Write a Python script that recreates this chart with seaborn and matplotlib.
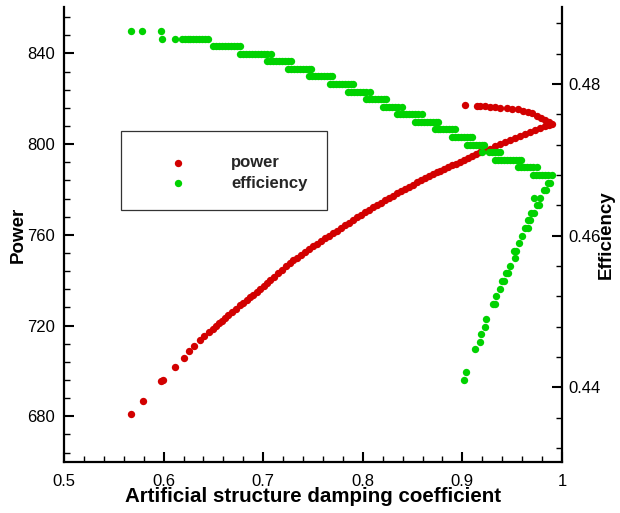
import matplotlib
matplotlib.use("Agg")
import matplotlib.pyplot as plt
import pandas as pd
import seaborn as sns
from matplotlib.ticker import MultipleLocator, FuncFormatter
from matplotlib.patches import Rectangle

# Power: damping coefficient vs. power (lower branch, then the fold-back branch)
power_x = [
    0.567, 0.579, 0.597, 0.599, 0.611, 0.620, 0.626, 0.631, 0.637, 0.641,
    0.646, 0.650, 0.653, 0.656, 0.659, 0.662, 0.665, 0.669, 0.673, 0.677,
    0.680, 0.684, 0.687, 0.690, 0.694, 0.697, 0.701, 0.704, 0.707, 0.711,
    0.715, 0.719, 0.723, 0.727, 0.730, 0.734, 0.738, 0.742, 0.746, 0.750,
    0.754, 0.758, 0.762, 0.766, 0.770, 0.774, 0.778, 0.782, 0.786, 0.790,
    0.794, 0.798, 0.802, 0.806, 0.810, 0.814, 0.818, 0.822, 0.826, 0.830,
    0.834, 0.838, 0.842, 0.846, 0.850, 0.854, 0.858, 0.862, 0.866, 0.870,
    0.874, 0.878, 0.882, 0.886, 0.890, 0.894, 0.898, 0.902, 0.906, 0.910,
    0.914, 0.918, 0.923, 0.928, 0.933, 0.938, 0.943, 0.948, 0.953, 0.958,
    0.963, 0.968, 0.973, 0.978, 0.983, 0.987, 0.990,
    0.9026, 0.9143, 0.918, 0.923, 0.9277, 0.933, 0.938, 0.9445, 0.950, 0.956,
    0.9611, 0.966, 0.970, 0.9746, 0.979, 0.983, 0.987,
]
power_val = [
    681.1, 686.8, 695.4, 696.2, 701.8, 705.8, 708.7, 710.9, 713.6, 715.5,
    717.2, 718.6, 719.8, 721.0, 722.2, 723.4, 724.6, 726.0, 727.5, 728.9,
    730.0, 731.4, 732.4, 733.5, 734.9, 736.2, 737.6, 738.8, 740.0, 741.6,
    743.0, 744.6, 746.1, 747.6, 748.8, 750.0, 751.3, 752.5, 753.7, 754.9,
    756.1, 757.3, 758.5, 759.7, 760.8, 761.9, 763.1, 764.2, 765.4, 766.5,
    767.7, 768.8, 769.9, 771.0, 772.1, 773.1, 774.2, 775.2, 776.2, 777.3,
    778.3, 779.3, 780.2, 781.2, 782.1, 783.1, 784.0, 784.9, 785.8, 786.6,
    787.5, 788.3, 789.1, 789.9, 790.7, 791.4, 792.1, 793.0, 793.8, 794.6,
    795.5, 796.3, 797.2, 798.0, 799.0, 800.0, 801.0, 801.9, 802.8, 803.7,
    804.5, 805.4, 806.3, 807.0, 807.8, 808.4, 808.8,
    817.4, 817.0, 816.9, 816.6, 816.3, 816.2, 816.1, 816.0, 815.6, 815.3,
    814.8, 814.2, 813.6, 812.6, 811.6, 810.6, 809.6,
]

# Efficiency: damping coefficient vs. efficiency (upper steps, then the lower branch)
eff_x = [
    0.567, 0.578, 0.597,
    0.598, 0.611, 0.618, 0.621, 0.624, 0.627, 0.630, 0.633, 0.636, 0.639, 0.642, 0.645,
    0.650, 0.653, 0.656, 0.659, 0.662, 0.665, 0.668, 0.671, 0.674, 0.677,
    0.677, 0.680, 0.683, 0.686, 0.689, 0.692, 0.695, 0.698, 0.701, 0.704, 0.708,
    0.704, 0.707, 0.710, 0.713, 0.716, 0.719, 0.722, 0.725, 0.728,
    0.725, 0.728, 0.731, 0.734, 0.737, 0.740, 0.743, 0.746, 0.748,
    0.746, 0.749, 0.752, 0.755, 0.758, 0.761, 0.764, 0.767, 0.769,
    0.767, 0.770, 0.773, 0.776, 0.779, 0.782, 0.785, 0.788, 0.790,
    0.785, 0.788, 0.791, 0.794, 0.797, 0.800, 0.803, 0.807,
    0.803, 0.806, 0.809, 0.812, 0.815, 0.818, 0.821, 0.823,
    0.820, 0.823, 0.826, 0.829, 0.832, 0.835, 0.839,
    0.834, 0.837, 0.840, 0.843, 0.846, 0.849, 0.852, 0.855, 0.859,
    0.852, 0.855, 0.858, 0.861, 0.864, 0.867, 0.870, 0.873, 0.876,
    0.872, 0.875, 0.878, 0.881, 0.884, 0.887, 0.890, 0.893,
    0.890, 0.893, 0.896, 0.899, 0.902, 0.905, 0.908, 0.910,
    0.905, 0.908, 0.911, 0.914, 0.917, 0.920, 0.922,
    0.920, 0.927, 0.930, 0.933, 0.936, 0.938,
    0.933, 0.936, 0.939, 0.942, 0.945, 0.948, 0.951, 0.954, 0.957, 0.959,
    0.956, 0.959, 0.962, 0.965, 0.968, 0.971, 0.975,
    0.971, 0.974, 0.977, 0.980, 0.983, 0.986, 0.990,
    0.986, 0.988,
    0.982, 0.984, 0.972, 0.978, 0.975, 0.977, 0.969, 0.972, 0.966, 0.968,
    0.963, 0.966, 0.960, 0.957, 0.952, 0.954, 0.953, 0.948, 0.944, 0.946,
    0.940, 0.942, 0.938, 0.934, 0.931, 0.933, 0.924, 0.923, 0.919, 0.918,
    0.913, 0.904, 0.902,
]
eff_val = [
    0.487, 0.487, 0.487,
    0.486, 0.486, 0.486, 0.486, 0.486, 0.486, 0.486, 0.486, 0.486, 0.486, 0.486, 0.486,
    0.485, 0.485, 0.485, 0.485, 0.485, 0.485, 0.485, 0.485, 0.485, 0.485,
    0.484, 0.484, 0.484, 0.484, 0.484, 0.484, 0.484, 0.484, 0.484, 0.484, 0.484,
    0.483, 0.483, 0.483, 0.483, 0.483, 0.483, 0.483, 0.483, 0.483,
    0.482, 0.482, 0.482, 0.482, 0.482, 0.482, 0.482, 0.482, 0.482,
    0.481, 0.481, 0.481, 0.481, 0.481, 0.481, 0.481, 0.481, 0.481,
    0.480, 0.480, 0.480, 0.480, 0.480, 0.480, 0.480, 0.480, 0.480,
    0.479, 0.479, 0.479, 0.479, 0.479, 0.479, 0.479, 0.479,
    0.478, 0.478, 0.478, 0.478, 0.478, 0.478, 0.478, 0.478,
    0.477, 0.477, 0.477, 0.477, 0.477, 0.477, 0.477,
    0.476, 0.476, 0.476, 0.476, 0.476, 0.476, 0.476, 0.476, 0.476,
    0.475, 0.475, 0.475, 0.475, 0.475, 0.475, 0.475, 0.475, 0.475,
    0.474, 0.474, 0.474, 0.474, 0.474, 0.474, 0.474, 0.474,
    0.473, 0.473, 0.473, 0.473, 0.473, 0.473, 0.473, 0.473,
    0.472, 0.472, 0.472, 0.472, 0.472, 0.472, 0.472,
    0.471, 0.471, 0.471, 0.471, 0.471, 0.471,
    0.470, 0.470, 0.470, 0.470, 0.470, 0.470, 0.470, 0.470, 0.470, 0.470,
    0.469, 0.469, 0.469, 0.469, 0.469, 0.469, 0.469,
    0.468, 0.468, 0.468, 0.468, 0.468, 0.468, 0.468,
    0.467, 0.467,
    0.466, 0.466, 0.465, 0.465, 0.464, 0.464, 0.463, 0.463, 0.462, 0.462,
    0.461, 0.461, 0.460, 0.459, 0.458, 0.458, 0.457, 0.456, 0.455, 0.455,
    0.454, 0.454, 0.453, 0.452, 0.451, 0.451, 0.449, 0.448, 0.447, 0.446,
    0.445, 0.442, 0.441,
]

x_ticks = [0.5, 0.6, 0.7, 0.8, 0.9, 1.0]
power_ticks = [680, 720, 760, 800, 840]
eff_ticks = [0.44, 0.46, 0.48]

RED = "#d20000"
GREEN = "#00d200"

sns.set_theme(style="white")
plt.rcParams["font.family"] = ["Liberation Sans", "DejaVu Sans"]

W, H = 620, 513
fig = plt.figure(figsize=(W / 100, H / 100), dpi=100)
left, right, top, bottom = 64, 562, 7.3, 461.7
ax = fig.add_axes([left / W, 1 - bottom / H, (right - left) / W, (bottom - top) / H])
ax2 = ax.twinx()

power_df = pd.DataFrame({"coef": power_x, "power": power_val})
eff_df = pd.DataFrame({"coef": eff_x, "efficiency": eff_val})

sns.scatterplot(data=power_df, x="coef", y="power", ax=ax, color=RED, s=28,
                linewidth=0, legend=False, zorder=3)
sns.scatterplot(data=eff_df, x="coef", y="efficiency", ax=ax2, color=GREEN, s=28,
                linewidth=0, legend=False, zorder=3)

ax.set_xlim(0.5, 1.0)
ax.set_ylim(660, 860.3)
ax2.set_ylim(0.43017, 0.49012)

ax.set_xticks(x_ticks)
ax.set_yticks(power_ticks)
ax2.set_yticks(eff_ticks)
ax.xaxis.set_minor_locator(MultipleLocator(0.02))
ax.yaxis.set_minor_locator(MultipleLocator(8))
ax2.yaxis.set_minor_locator(MultipleLocator(0.004))
ax.xaxis.set_major_formatter(FuncFormatter(lambda v, p: f"{v:g}"))
ax.yaxis.set_major_formatter(FuncFormatter(lambda v, p: f"{v:g}"))
ax2.yaxis.set_major_formatter(FuncFormatter(lambda v, p: f"{v:.2f}"))

for a in (ax, ax2):
    a.spines["top"].set_visible(False)
    a.grid(False)
ax.spines["right"].set_visible(False)
ax2.spines["left"].set_visible(False)
ax2.spines["bottom"].set_visible(False)
for a, names in ((ax, ("left", "bottom")), (ax2, ("right",))):
    for n in names:
        a.spines[n].set_linewidth(1.6)
        a.spines[n].set_color("black")

ax.tick_params(axis="both", which="major", direction="in", length=7, width=1.5,
               color="black", labelsize=12, labelcolor="black", pad=6.5)
ax.tick_params(axis="x", which="major", pad=8.5)
ax.tick_params(axis="both", which="minor", direction="in", length=4, width=1.0,
               color="black")
ax.tick_params(axis="x", which="both", bottom=True, top=False)
ax.tick_params(axis="y", which="both", left=True, right=False)
ax2.tick_params(axis="y", which="major", direction="in", length=7, width=1.5,
                color="black", labelsize=12, labelcolor="black", pad=4.5,
                right=True, left=False)
ax2.tick_params(axis="y", which="minor", direction="in", length=4, width=1.0,
                color="black", right=True, left=False)

ax.set_xlabel("Artificial structure damping coefficient", fontsize=14.8,
              fontweight="bold", color="black")
ax.set_ylabel("Power", fontsize=13.5, fontweight="bold", color="black")
ax2.set_ylabel("Efficiency", fontsize=13.5, fontweight="bold", color="black")
ax.xaxis.set_label_coords(0.5, -0.056)
ax.yaxis.set_label_coords(-0.075, 0.5)
ax2.yaxis.set_label_coords(1.072, 0.5)

# Legend frame and entries
frame = Rectangle((121.5 / W, 1 - 210 / H), 205.5 / W, 79 / H,
                  transform=fig.transFigure, facecolor="white",
                  edgecolor="#333333", linewidth=0.9, zorder=4)
ax2.add_patch(frame)
handles = [ax.collections[0], ax2.collections[0]]
leg = ax2.legend(handles, ["power", "efficiency"], frameon=False,
                 loc="upper left", bbox_to_anchor=(161.3 / W, 1 - 155 / H),
                 bbox_transform=fig.transFigure, borderpad=0, borderaxespad=0,
                 handlelength=2.0, handletextpad=2.2, labelspacing=0.35,
                 markerscale=1.0, prop={"weight": "bold", "size": 12})
leg.set_zorder(5)

fig.savefig("out.png", dpi=100)
